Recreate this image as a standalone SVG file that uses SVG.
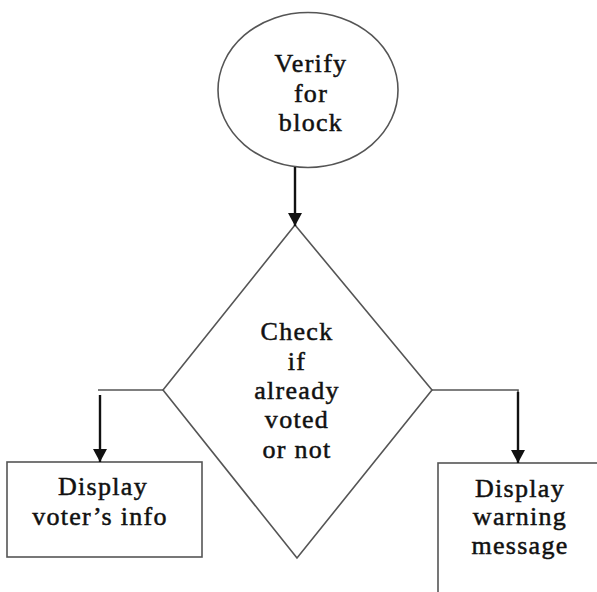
<svg xmlns="http://www.w3.org/2000/svg" width="597" height="592" viewBox="0 0 597 592">
  <style>
    .shape { fill: #ffffff; stroke: #555555; stroke-width: 1.6; }
    .conn { fill: none; stroke: #555555; stroke-width: 1.6; }
    .arrow { fill: none; stroke: #111111; stroke-width: 2.4; }
    .lbl { font-family: "Liberation Serif", "Times New Roman", serif; font-size: 26px; font-weight: normal; letter-spacing: 1.3px; fill: #111111; stroke: #111111; stroke-width: 0.5; text-anchor: middle; }
  </style>
  <defs>
    <marker id="ah" markerUnits="userSpaceOnUse" markerWidth="14" markerHeight="14" refX="13" refY="7" orient="auto">
      <path d="M0,0 L13,7 L0,14 z" fill="#111111"/>
    </marker>
  </defs>
  <rect width="597" height="592" fill="#ffffff"/>

  <g id="verify">
    <ellipse class="shape" cx="308" cy="90" rx="90" ry="77.5"/>
    <text class="lbl" x="311" y="72">Verify</text>
    <text class="lbl" x="311" y="102">for</text>
    <text class="lbl" x="311" y="131">block</text>
  </g>

  <g id="check">
    <polygon class="shape" points="295,225 432,390 297,558 163,390"/>
    <text class="lbl" x="297" y="340">Check</text>
    <text class="lbl" x="297" y="370">if</text>
    <text class="lbl" x="297" y="399">already</text>
    <text class="lbl" x="297" y="428">voted</text>
    <text class="lbl" x="297" y="458">or not</text>
  </g>

  <g id="voter-info">
    <rect class="shape" x="7" y="462" width="195" height="95"/>
    <text class="lbl" x="103" y="495">Display</text>
    <text class="lbl" x="100" y="525">voter’s info</text>
  </g>

  <g id="warning">
    <rect class="shape" x="438" y="463" width="180" height="150"/>
    <text class="lbl" x="520" y="497">Display</text>
    <text class="lbl" x="520" y="525">warning</text>
    <text class="lbl" x="520" y="554">message</text>
  </g>

  <g id="connectors">
    <line class="arrow" x1="295" y1="167" x2="295" y2="226" marker-end="url(#ah)"/>
    <polyline class="conn" points="163,390 98,390"/>
    <line class="arrow" x1="100" y1="395" x2="100" y2="462" marker-end="url(#ah)"/>
    <polyline class="conn" points="432,390 518,390 518,450"/>
    <line class="arrow" x1="518" y1="392" x2="518" y2="463" marker-end="url(#ah)"/>
  </g>
</svg>
